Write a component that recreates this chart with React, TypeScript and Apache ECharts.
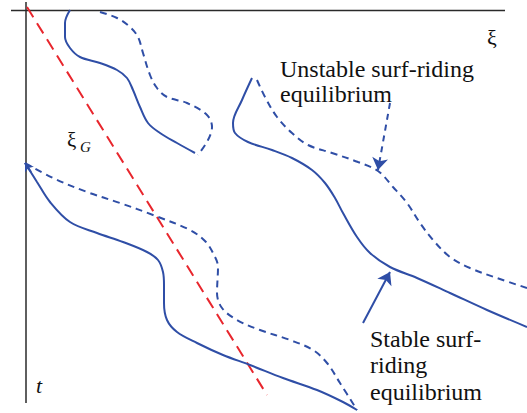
import React, { useEffect, useRef } from "react";
import * as echarts from "echarts";

// Data (coordinates in the diagram's ξ / t units)
const axisXi = [[11, 10.5], [505, 10.5]];
const axisT = [[26, 2], [26, 403]];
const redGuide = [[27, 7], [267, 395]];
const topLeftSolid = [[70, 10], [65, 23], [65, 37], [70, 48], [80, 57], [100, 63], [117, 70], [127, 78], [133, 90], [140, 107], [148, 123], [160, 133], [177, 143], [195, 153]];
const topLeftDashed = [[100, 12], [117, 18], [130, 27], [138, 37], [143, 53], [150, 75], [157, 88], [167, 97], [187, 103], [207, 115], [212, 127], [208, 140], [198, 155]];
const bottomSolid = [[25, 163], [37, 182], [50, 202], [70, 222], [97, 233], [123, 242], [147, 252], [158, 260], [163, 272], [164, 285], [164, 303], [167, 320], [177, 332], [197, 343], [223, 355], [250, 365], [283, 378], [317, 390], [343, 402], [357, 410]];
const bottomDashed = [[25, 163], [53, 178], [87, 192], [120, 203], [153, 215], [190, 230], [205, 241], [213, 253], [218, 267], [217, 293], [222, 308], [237, 320], [260, 330], [290, 340], [313, 350], [327, 363], [340, 383], [357, 410]];
const rightSolid = [[252, 78], [242, 100], [233, 123], [235, 133], [248, 142], [272, 150], [292, 158], [312, 170], [325, 183], [335, 198], [343, 213], [357, 237], [370, 253], [390, 267], [417, 278], [450, 293], [487, 310], [527, 327]];
const rightDashed = [[257, 80], [265, 97], [277, 117], [292, 133], [308, 145], [332, 153], [358, 162], [378, 171], [393, 187], [407, 203], [420, 223], [433, 240], [450, 257], [470, 268], [497, 278], [527, 288]];
const unstableArrow = [[390, 103], [378, 170]];
const stableArrow = [[363, 323], [390, 272]];
const startArrow = [[31, 172], [25, 163]];

const BLUE = "#2f4ea6";
const RED = "#e8262d";
const INK = "#2a2a2a";
const SERIF = "Liberation Serif";

function curve(data: number[][], dashed: boolean) {
  return {
    type: "line",
    data,
    smooth: 0.35,
    showSymbol: false,
    silent: true,
    lineStyle: { color: BLUE, width: 2, type: dashed ? [7, 5] : "solid" },
  };
}

function arrow(pts: number[][], dashed: boolean, size: number) {
  return [
    { coord: pts[0], symbol: "none" },
    { coord: pts[1], symbol: "arrow", symbolSize: size, lineStyle: { type: dashed ? [6, 5] : "solid" } },
  ];
}

export default function App() {
  const ref = useRef<HTMLDivElement>(null);
  useEffect(() => {
    document.body.style.margin = "0";
    const chart = echarts.init(ref.current!, undefined, { renderer: "svg" });
    const txt = (text: string, x: number, y: number, size: number, italic = false) => ({
      type: "text",
      x,
      y,
      silent: true,
      style: {
        text,
        fill: "#111",
        fontFamily: SERIF,
        fontSize: size,
        fontStyle: italic ? "italic" : "normal",
        verticalAlign: "middle",
        align: "left",
      },
    });
    chart.setOption({
      animation: false,
      backgroundColor: "#fff",
      grid: { left: 0, right: 0, top: 0, bottom: 0 },
      xAxis: { type: "value", min: 0, max: 527, show: false },
      yAxis: { type: "value", min: 0, max: 413, inverse: true, show: false },
      series: [
        { type: "line", data: axisXi, showSymbol: false, silent: true, lineStyle: { color: INK, width: 1.5 } },
        { type: "line", data: axisT, showSymbol: false, silent: true, lineStyle: { color: INK, width: 1.5 } },
        { type: "line", data: redGuide, showSymbol: false, silent: true, lineStyle: { color: RED, width: 2, type: [12, 7] } },
        curve(topLeftSolid, false),
        curve(topLeftDashed, true),
        curve(bottomSolid, false),
        curve(bottomDashed, true),
        curve(rightSolid, false),
        {
          ...curve(rightDashed, true),
          markLine: {
            silent: true,
            animation: false,
            label: { show: false },
            lineStyle: { color: BLUE, width: 2, type: "solid" },
            itemStyle: { color: BLUE },
            data: [arrow(unstableArrow, true, 12), arrow(stableArrow, false, 12), arrow(startArrow, false, 8)],
          },
        },
      ],
      graphic: [
        txt("ξ", 487, 37, 22),
        txt("ξ", 67, 140, 21),
        txt("G", 80, 147, 15, true),
        txt("t", 36, 385, 22, true),
        txt("Unstable surf-riding", 280, 69, 24),
        txt("equilibrium", 280, 94, 24),
        txt("Stable surf-", 370, 339, 24),
        txt("riding", 370, 365, 24),
        txt("equilibrium", 370, 392, 24),
      ],
    });
    return () => chart.dispose();
  }, []);
  return <div ref={ref} style={{ width: 527, height: 413 }} />;
}
